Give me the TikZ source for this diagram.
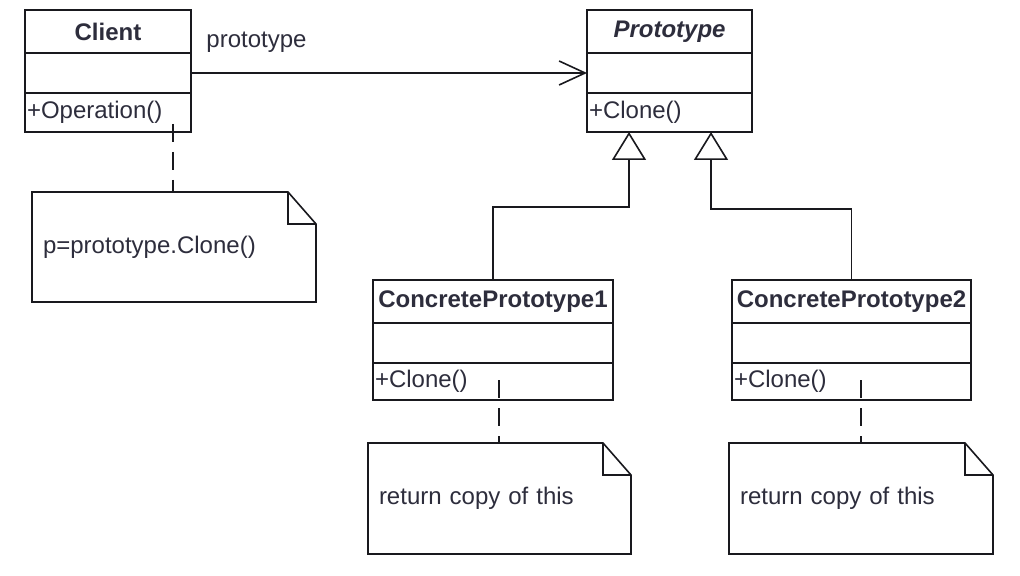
\documentclass[tikz,border=0pt]{standalone}
\usepackage{fontspec}
\setmainfont{Liberation Sans}
\usepackage{tikz}
\usetikzlibrary{arrows.meta,positioning}
\definecolor{umlline}{RGB}{25,25,30}
\definecolor{umltext}{RGB}{45,45,60}

\begin{document}
\begin{tikzpicture}[
  x=0.5pt, y=-0.5pt,
  every node/.style={font=\fontsize{12}{14}\selectfont, text=umltext},
  clsname/.style={draw=umlline, line width=0.8pt, fill=white, outer sep=0pt, inner xsep=1pt, minimum height=21.5pt, font=\fontsize{12}{14}\selectfont\bfseries},
  clsattr/.style={draw=umlline, line width=0.8pt, fill=white, outer sep=0pt, minimum height=20pt},
  clsops/.style={draw=umlline, line width=0.8pt, fill=white, outer sep=0pt, minimum height=19.5pt, align=left, inner xsep=1pt},
  notebox/.style={outer sep=0pt, minimum height=55pt, align=left, inner xsep=5.5pt},
  noteline/.style={draw=umlline, line width=0.8pt},
  assoc/.style={draw=umlline, line width=0.8pt, -{Straight Barb[length=13pt,width=12pt]}},
  inherit/.style={draw=umlline, line width=0.8pt, -{Triangle[open,length=14pt,width=17pt,fill=white]}},
  anchorline/.style={draw=umlline, line width=0.8pt, dash pattern=on 9pt off 5pt}
]
\fill[white] (0,0) rectangle (1020,576);
\useasboundingbox (0,0) rectangle (1020,576);

% Client
\node[clsname, minimum width=83pt] (client-name) at (108,31.5) {Client};
\node[clsattr, minimum width=83pt, below=0pt of client-name] (client-attr) {};
\node[clsops, text width=81pt, below=0pt of client-attr] (client-ops) {+Operation()};

% Prototype (abstract)
\node[clsname, minimum width=82.5pt] (proto-name) at (669.5,31.5) {\itshape Prototype};
\node[clsattr, minimum width=82.5pt, below=0pt of proto-name] (proto-attr) {};
\node[clsops, text width=80.5pt, below=0pt of proto-attr] (proto-ops) {+Clone()};

\draw[assoc] (client-attr.east) -- (proto-attr.west);
\node (rolename) at (256.5,42) {prototype};

% Concrete prototypes
\node[clsname, minimum width=120pt] (cp1-name) at (493,301.5) {ConcretePrototype1};
\node[clsattr, minimum width=120pt, below=0pt of cp1-name] (cp1-attr) {};
\node[clsops, text width=118pt, minimum height=18.5pt, below=0pt of cp1-attr] (cp1-ops) {+Clone()};

\node[clsname, minimum width=119.5pt] (cp2-name) at (851.5,301.5) {ConcretePrototype2};
\node[clsattr, minimum width=119.5pt, below=0pt of cp2-name] (cp2-attr) {};
\node[clsops, text width=117.5pt, minimum height=18.5pt, below=0pt of cp2-attr] (cp2-ops) {+Clone()};

% Generalizations
\coordinate (bend1) at (629,207);
\coordinate (bend2) at (711,209);
\draw[inherit] (cp1-name.north) |- (bend1) -- (bend1 |- proto-ops.south);
\draw[inherit] (cp2-name.north) |- (bend2) -- (bend2 |- proto-ops.south);

% Notes
\node[notebox, text width=131pt] (cnote) at (174,247) {p=prototype.Clone()};
\node[notebox, text width=120.5pt, minimum height=55.5pt] (n1note) at (499.5,498.5) {return copy of this};
\node[notebox, text width=121pt, minimum height=55.5pt] (n2note) at (861,498.5) {return copy of this};

\draw[noteline] (cnote.north west) -- ([xshift=-14pt]cnote.north east) -- ([yshift=-16pt]cnote.north east) -- (cnote.south east) -- (cnote.south west) -- cycle;
\draw[noteline] ([xshift=-14pt]cnote.north east) |- ([yshift=-16pt]cnote.north east);
\draw[noteline] (n1note.north west) -- ([xshift=-14pt]n1note.north east) -- ([yshift=-16pt]n1note.north east) -- (n1note.south east) -- (n1note.south west) -- cycle;
\draw[noteline] ([xshift=-14pt]n1note.north east) |- ([yshift=-16pt]n1note.north east);
\draw[noteline] (n2note.north west) -- ([xshift=-14pt]n2note.north east) -- ([yshift=-16pt]n2note.north east) -- (n2note.south east) -- (n2note.south west) -- cycle;
\draw[noteline] ([xshift=-14pt]n2note.north east) |- ([yshift=-16pt]n2note.north east);

% Note anchors
\coordinate (client-op) at (173,124);
\coordinate (cp1-op) at (499,380);
\coordinate (cp2-op) at (861,380);
\draw[anchorline] (client-op) -- (client-op |- cnote.north);
\draw[anchorline] (cp1-op) -- (cp1-op |- n1note.north);
\draw[anchorline] (cp2-op) -- (cp2-op |- n2note.north);

\end{tikzpicture}
\end{document}
